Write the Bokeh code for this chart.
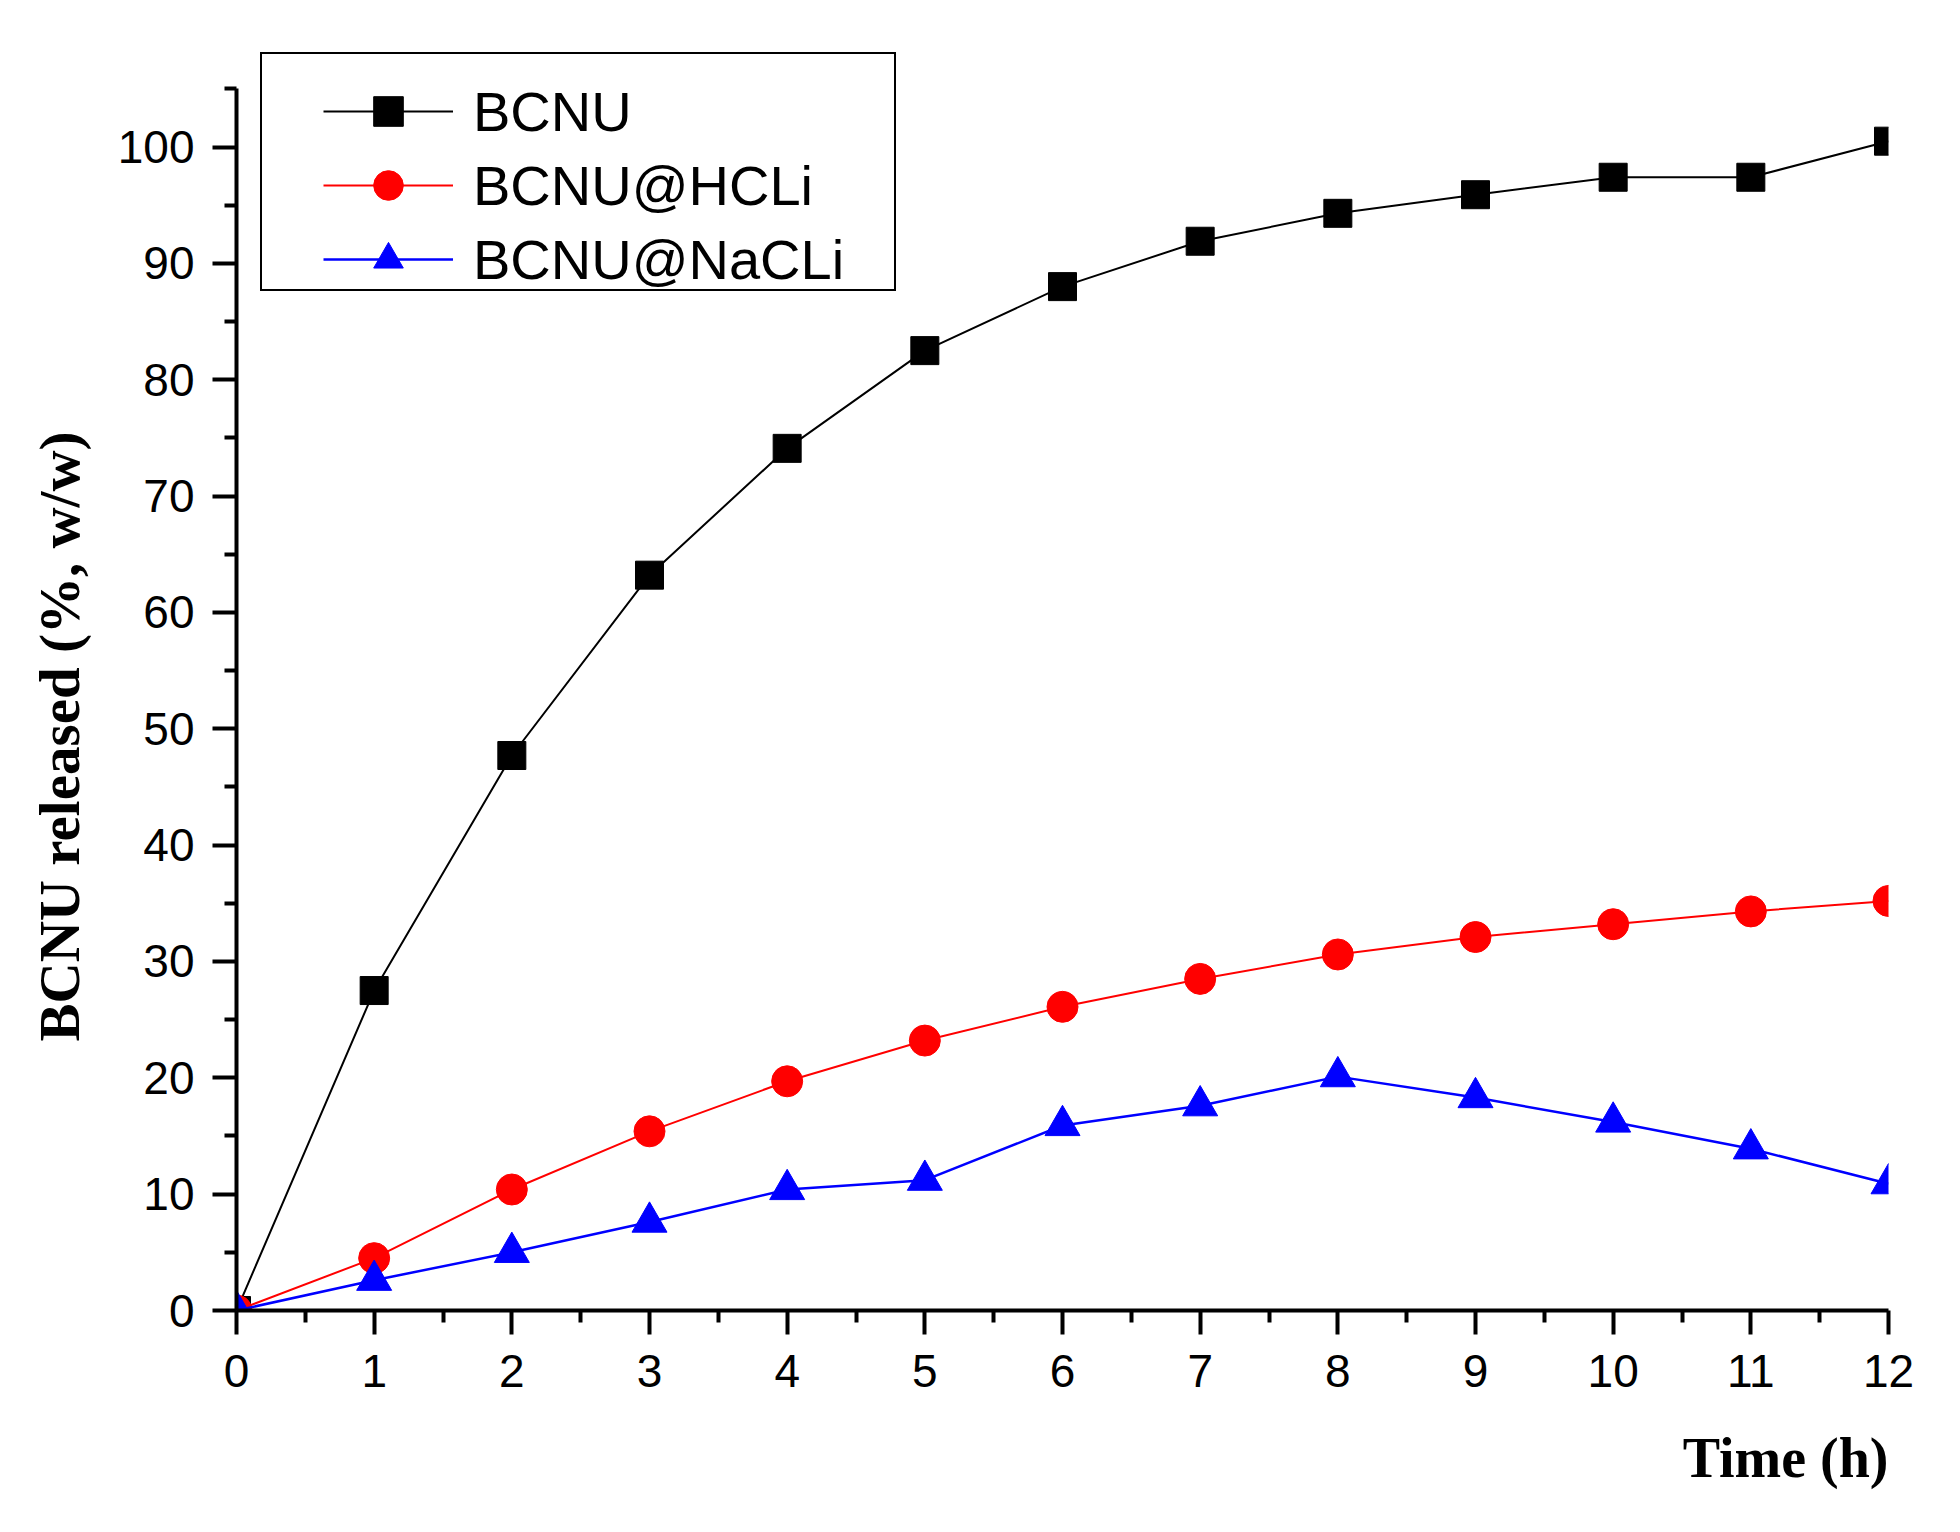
from bokeh.plotting import figure
from bokeh.models import Range1d, FixedTicker, Legend, LegendItem, Title
from bokeh.embed import file_html
from bokeh.resources import INLINE

# ---- data ----
time_h = [0, 1, 2, 3, 4, 5, 6, 7, 8, 9, 10, 11, 12]
bcnu = [0, 27.5, 47.7, 63.2, 74.1, 82.5, 88.0, 91.9, 94.3, 95.9, 97.4, 97.4, 100.5]
bcnu_hcli = [0, 4.5, 10.4, 15.4, 19.7, 23.2, 26.1, 28.5, 30.6, 32.1, 33.2, 34.3, 35.2]
bcnu_nacli = [0, 2.6, 5.0, 7.6, 10.4, 11.2, 15.9, 17.6, 20.1, 18.3, 16.2, 13.9, 10.9]
series_names = ["BCNU", "BCNU@HCLi", "BCNU@NaCLi"]
x_ticks = list(range(0, 13))
x_minor = [i + 0.5 for i in range(12)]
y_ticks = list(range(0, 101, 10))
y_minor = list(range(5, 106, 10))

SANS = "Liberation Sans"
SERIF = "Liberation Serif"

FRAME_H = 1258
Y_TOP = FRAME_H / 11.635   # frame reaches just above the legend box top

p = figure(
    output_backend="svg", toolbar_location=None,
    frame_width=1652, frame_height=FRAME_H,
    min_border_left=236, min_border_right=64,
    min_border_top=52, min_border_bottom=214,
    x_range=Range1d(0, 12), y_range=Range1d(0, Y_TOP),
    background_fill_color="white", border_fill_color="white",
)
p.outline_line_color = None
p.grid.visible = False

for ax, ticks, minor in ((p.xaxis[0], x_ticks, x_minor), (p.yaxis[0], y_ticks, y_minor)):
    ax.ticker = FixedTicker(ticks=ticks, minor_ticks=minor)
    ax.axis_line_width = 4
    ax.axis_line_color = "black"
    ax.major_tick_line_width = 4
    ax.minor_tick_line_width = 4
    ax.major_tick_line_color = "black"
    ax.minor_tick_line_color = "black"
    ax.major_tick_out = 24
    ax.major_tick_in = 0
    ax.minor_tick_out = 12
    ax.minor_tick_in = 0
    ax.major_label_text_font = SANS
    ax.major_label_text_font_size = "46px"
    ax.major_label_text_color = "black"

p.yaxis[0].bounds = (0, 105)
p.xaxis[0].major_label_standoff = 20
p.yaxis[0].major_label_standoff = 18

# series
l1 = p.line(time_h, bcnu, line_color="black", line_width=2)
m1 = p.scatter(time_h, bcnu, marker="square", size=28, fill_color="black", line_color="black")
l2 = p.line(time_h, bcnu_hcli, line_color="#ff0000", line_width=2)
m2 = p.scatter(time_h, bcnu_hcli, marker="circle", size=31, fill_color="#ff0000", line_color="#ff0000")
l3 = p.line(time_h, bcnu_nacli, line_color="#0000ff", line_width=2.5)
m3 = p.scatter(time_h, bcnu_nacli, marker="triangle", size=35, fill_color="#0000ff", line_color="#0000ff")

# legend frame (drawn as a separate, empty legend box)
ghost = p.line([0, 1], [0, 0], line_alpha=0)
box = Legend(
    items=[LegendItem(label=" ", renderers=[ghost])],
    location=(24, FRAME_H - 4 - 235), padding=0, margin=0, spacing=0,
    glyph_width=1, glyph_height=235, label_height=235, label_width=631,
    label_standoff=0, label_text_font_size="10px",
    border_line_color="black", border_line_width=2.5, border_line_alpha=1,
    background_fill_color="white", background_fill_alpha=1,
)
p.add_layout(box)

legend = Legend(
    items=[
        LegendItem(label=series_names[0], renderers=[l1, m1]),
        LegendItem(label=series_names[1], renderers=[l2, m2]),
        LegendItem(label=series_names[2], renderers=[l3, m3]),
    ],
    location=(87, FRAME_H - 22 - 222), padding=0, margin=0, spacing=0,
    glyph_width=130, glyph_height=74, label_height=74, label_standoff=20,
    label_text_font=SANS, label_text_font_size="56px", label_text_color="black",
    border_line_alpha=0, background_fill_alpha=0,
)
p.add_layout(legend)

ytitle = Title(text="BCNU released (%, w/w)", align="left", offset=269,
               text_font=SERIF, text_font_size="57px", text_font_style="bold",
               text_color="black", standoff=48)
p.add_layout(ytitle, "left")

xtitle = Title(text="Time (h)", align="right", offset=0,
               text_font=SERIF, text_font_size="56px", text_font_style="bold",
               text_color="black", standoff=70)
p.add_layout(xtitle, "below")

open("out.html", "w").write(file_html(p, INLINE))
